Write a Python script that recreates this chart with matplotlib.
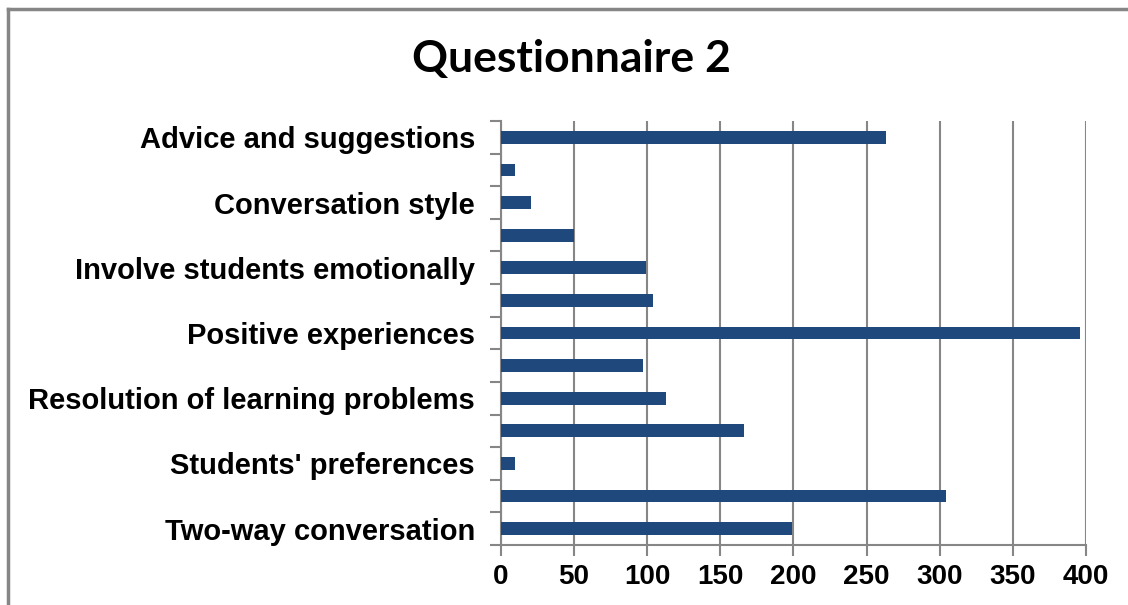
import numpy as np
import matplotlib
matplotlib.use('Agg')
import matplotlib.pyplot as plt
from matplotlib.lines import Line2D

# data (top to bottom), only every other category label is shown in the original
categories = ['Advice and suggestions', '', 'Conversation style', '',
              'Involve students emotionally', '', 'Positive experiences', '',
              'Resolution of learning problems', '', "Students' preferences", '',
              'Two-way conversation']
values = [263, 10, 21, 50, 99, 104, 396, 97, 113, 166, 10, 304, 199]
xticks = [0, 50, 100, 150, 200, 250, 300, 350, 400]

BAR = '#1f497d'
GRID = '#868686'

fig = plt.figure(figsize=(11.28, 6.05), dpi=100, facecolor='white')
ax = fig.add_axes([0.4439, 0.0992, 0.9628 - 0.4439, 0.8 - 0.0992])

y = np.arange(len(values))
ax.barh(y, values, height=0.39, color=BAR, zorder=3)

ax.set_xlim(0, 400)
ax.set_ylim(len(values) - 0.5, -0.5)

ax.set_xticks(xticks)
ax.set_xticklabels([str(t) for t in xticks], fontsize=20, fontweight='bold',
                   family='Liberation Sans')
ax.set_yticks(y)
ax.set_yticklabels(categories, fontsize=21, fontweight='bold', family='Liberation Sans')
ax.set_yticks(np.arange(len(values) + 1) - 0.5, minor=True)

ax.tick_params(axis='y', which='major', length=0, pad=18.5)
ax.tick_params(axis='y', which='minor', length=8, width=1.5, color=GRID)
ax.tick_params(axis='x', which='major', length=8, width=1.5, color=GRID, pad=6)

ax.grid(axis='x', color=GRID, linewidth=1.5, zorder=0)
for s in ['top', 'right']:
    ax.spines[s].set_visible(False)
for s in ['left', 'bottom']:
    ax.spines[s].set_color(GRID)
    ax.spines[s].set_linewidth(1.5)

fig.text(0.507, 0.902, 'Questionnaire 2', ha='center', va='center',
         fontsize=32, fontweight='bold', family='Lato')

# chart area border (only left and top edges fall inside the picture)
fig.add_artist(Line2D([8 / 1128, 8 / 1128], [0, 1 - 9 / 605], color=GRID, lw=2.5))
fig.add_artist(Line2D([8 / 1128, 1], [1 - 9 / 605, 1 - 9 / 605], color=GRID, lw=2.5))

fig.savefig('out.png', dpi=100, facecolor='white')
